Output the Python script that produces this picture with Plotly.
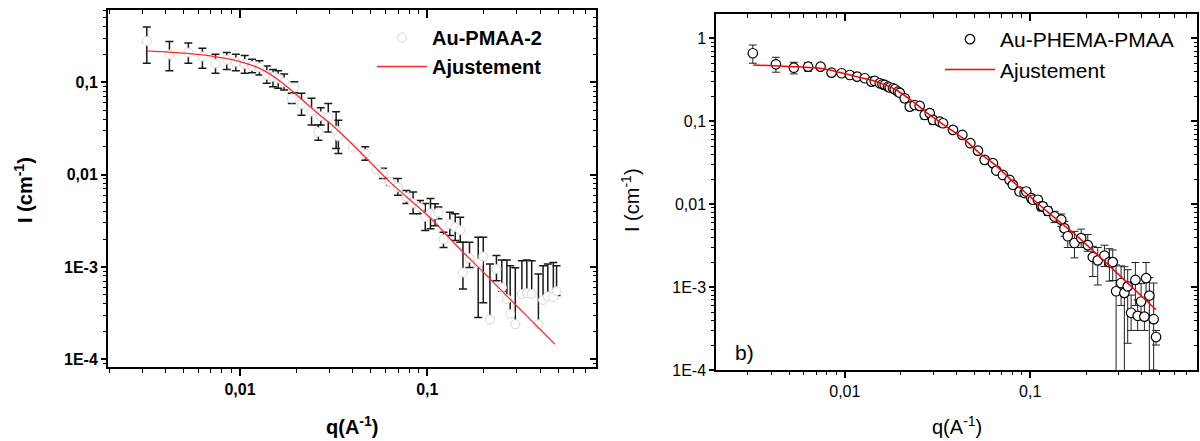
import plotly.graph_objects as go

# ---------------- Left panel: Au-PMAA-2 ----------------
q_a = [0.00318, 0.0042, 0.0053, 0.0063, 0.0074, 0.0085, 0.0095, 0.0106, 0.0116, 0.0127,
       0.0139, 0.0150, 0.0160, 0.0172, 0.0189, 0.0195, 0.0213, 0.0241, 0.0262, 0.0270,
       0.0296, 0.0326, 0.0335, 0.0400, 0.0466, 0.0536, 0.0580, 0.0632, 0.0697, 0.0774,
       0.0840, 0.0914, 0.0975, 0.104, 0.110, 0.1146, 0.122, 0.132, 0.141, 0.150,
       0.155, 0.168, 0.187, 0.199, 0.216, 0.234, 0.250, 0.266, 0.277, 0.295,
       0.320, 0.340, 0.361, 0.392, 0.415, 0.440, 0.471, 0.490]
I_a = [0.28, 0.20, 0.21, 0.19, 0.16, 0.175, 0.165, 0.158, 0.15, 0.145,
       0.12, 0.115, 0.11, 0.10, 0.067, 0.088, 0.058, 0.048, 0.029, 0.043,
       0.042, 0.030, 0.026, 0.0197, 0.0168, 0.0114, 0.0103, 0.0083, 0.0073, 0.0057,
       0.0049, 0.0044, 0.0035, 0.0038, 0.0037, 0.0039, 0.0020, 0.0029, 0.0027, 0.0025,
       0.00087, 0.00125, 0.0011, 0.0013, 0.00027, 0.00095, 0.0006, 0.00045, 0.00031, 0.00024,
       0.00051, 0.00052, 0.00051, 0.00024, 0.00044, 0.00048, 0.00047, 0.00055]
I_a_hi = [0.396, 0.276, 0.266, 0.234, 0.201, 0.21, 0.201, 0.195, 0.178, 0.171,
          0.150, 0.138, 0.133, 0.123, 0.0759, 0.1015, 0.0759, 0.067, 0.0344, 0.053,
          0.059, 0.0479, 0.0389, 0.0200, 0.0200, 0.0117, 0.0117, 0.0091, 0.0091, 0.00675,
          0.00647, 0.00525, 0.00488, 0.0055, 0.00484, 0.00445, 0.00238, 0.00392, 0.00377, 0.00346,
          0.00185, 0.00185, 0.0021, 0.0021, 0.00108, 0.00133, 0.00119, 0.00119, 0.00103, 0.00098,
          0.00117, 0.00119, 0.00117, 0.00084, 0.00103, 0.00108, 0.00112, 0.00103]
I_a_lo = [0.161, 0.133, 0.161, 0.142, 0.125, 0.138, 0.133, 0.125, 0.127, 0.12,
          0.0975, 0.0896, 0.086, 0.0825, 0.059, 0.077, 0.0441, 0.0344, 0.0236, 0.0344,
          0.029, 0.0192, 0.0169, 0.0194, 0.0143, 0.0111, 0.0091, 0.00766, 0.006, 0.00488,
          0.00377, 0.00377, 0.00248, 0.00259, 0.0028, 0.00333, 0.00163, 0.00219, 0.00193, 0.00185,
          0.000577, 0.00099, 0.000283, 0.00041, 0.00027, 0.00071, 0.00055, 0.00043, 0.00031, 0.00024,
          0.00051, 0.00052, 0.00051, 0.00024, 0.00044, 0.00048, 0.00047, 0.00049]

q_fit_a = [0.0032, 0.005, 0.0072, 0.0092, 0.0118, 0.0139, 0.017, 0.0209, 0.0257, 0.0315,
           0.042, 0.0632, 0.103, 0.1436, 0.2, 0.3, 0.4, 0.48]
I_fit_a = [0.219, 0.207, 0.191, 0.175, 0.151, 0.129, 0.097, 0.068, 0.047, 0.0335,
           0.0192, 0.0083, 0.00346, 0.0017, 0.00087, 0.00038, 0.000212, 0.000146]

# ---------------- Right panel: Au-PHEMA-PMAA ----------------
q_b = [0.00319, 0.00425, 0.00531, 0.00634, 0.0074, 0.00848, 0.0096, 0.01064, 0.01165, 0.01281,
       0.01393, 0.0145, 0.01544, 0.01596, 0.01642, 0.0171, 0.01747, 0.0182, 0.01859, 0.01936,
       0.01978, 0.02104, 0.02239, 0.02382, 0.02535, 0.02697, 0.0287, 0.02989, 0.03249, 0.03383,
       0.0383, 0.04303, 0.04752, 0.05224, 0.05675, 0.06292, 0.06561, 0.07118, 0.07737, 0.08059,
       0.08757, 0.0932, 0.0952, 0.1013, 0.1033, 0.1099, 0.1146, 0.1169, 0.1244, 0.1352,
       0.1469, 0.1530, 0.1594, 0.1732, 0.1882, 0.2043, 0.2174, 0.2312, 0.2513, 0.2673,
       0.2785, 0.2904, 0.309, 0.3218, 0.3354, 0.3499, 0.369, 0.3797, 0.396, 0.4126,
       0.4214, 0.4389, 0.463, 0.477]
I_b = [0.66, 0.486, 0.442, 0.455, 0.455, 0.385, 0.379, 0.361, 0.345, 0.330,
       0.300, 0.306, 0.287, 0.279, 0.274, 0.261, 0.255, 0.250, 0.243, 0.227,
       0.220, 0.189, 0.150, 0.157, 0.153, 0.119, 0.125, 0.1037, 0.0989, 0.0946,
       0.0786, 0.0684, 0.0543, 0.0442, 0.0342, 0.0312, 0.0254, 0.0225, 0.0196, 0.0171,
       0.0142, 0.0136, 0.0142, 0.0118, 0.0113, 0.0113, 0.0094, 0.0094, 0.0083, 0.0071,
       0.0065, 0.0051, 0.0041, 0.0034, 0.0039, 0.0032, 0.0023, 0.0021, 0.0024, 0.0020,
       0.0020, 0.00089, 0.00112, 0.00085, 0.00102, 0.00049, 0.00122, 0.00045, 0.00067, 0.00044,
       0.00128, 0.00079, 0.00041, 0.00025]
I_b_hi = [0.83, 0.59, 0.514, 0.51, 0.49, 0.41, 0.40, 0.38, 0.36, 0.345,
          0.32, 0.325, 0.30, 0.295, 0.29, 0.275, 0.27, 0.265, 0.26, 0.245,
          0.235, 0.205, 0.165, 0.172, 0.168, 0.132, 0.138, 0.115, 0.108, 0.104,
          0.083, 0.072, 0.057, 0.046, 0.036, 0.033, 0.027, 0.024, 0.021, 0.0185,
          0.0154, 0.0148, 0.0156, 0.013, 0.0124, 0.0125, 0.0105, 0.0104, 0.0093, 0.0082,
          0.0076, 0.0062, 0.0047, 0.0047, 0.0050, 0.0043, 0.0031, 0.0030, 0.0032, 0.0029,
          0.0028, 0.00185, 0.0018, 0.00176, 0.00162, 0.0008, 0.00198, 0.0007, 0.0011, 0.0007,
          0.00198, 0.0013, 0.00112, 0.0003]
I_b_lo = [0.50, 0.39, 0.372, 0.40, 0.42, 0.36, 0.36, 0.34, 0.33, 0.315,
          0.275, 0.29, 0.27, 0.265, 0.26, 0.245, 0.24, 0.23, 0.225, 0.21,
          0.205, 0.17, 0.135, 0.142, 0.138, 0.106, 0.112, 0.092, 0.089, 0.085,
          0.074, 0.065, 0.051, 0.042, 0.032, 0.029, 0.024, 0.021, 0.018, 0.0158,
          0.013, 0.0124, 0.013, 0.0106, 0.0102, 0.0101, 0.0083, 0.0084, 0.0073, 0.006,
          0.0054, 0.0041, 0.0030, 0.00225, 0.0030, 0.0027, 0.00134, 0.00106, 0.00177, 0.00118,
          0.0012, 0.0, 0.0006, 0.0, 0.00021, 0.0003, 0.0006, 0.0003, 0.0004, 0.0003,
          0.0007, 0.0, 0.0001, 0.0002]

q_fit_b = [0.00321, 0.00734, 0.0083, 0.01254, 0.01482, 0.01898, 0.02332, 0.0287, 0.03529, 0.04335,
           0.05333, 0.06561, 0.08059, 0.0991, 0.1244, 0.1769, 0.2673, 0.477]
I_fit_b = [0.477, 0.435, 0.415, 0.33, 0.30, 0.238, 0.172, 0.119, 0.0861, 0.0624,
           0.0411, 0.0289, 0.0187, 0.0125, 0.0080, 0.0042, 0.0018, 0.000533]

FONT = "Liberation Sans, Arial, sans-serif"

err_a_plus = [h - v for h, v in zip(I_a_hi, I_a)]
err_a_minus = [v - l for v, l in zip(I_a, I_a_lo)]
err_b_plus = [h - v for h, v in zip(I_b_hi, I_b)]
err_b_minus = [v - l for v, l in zip(I_b, I_b_lo)]

minor_vals = [m * 10.0 ** e for e in range(-5, 1) for m in range(2, 10)]

fig = go.Figure()

# Left panel traces
fig.add_trace(go.Scatter(
    x=q_a, y=I_a, mode="markers", name="Au-PMAA-2",
    marker=dict(symbol="circle", size=9, color="white", line=dict(color="#d6d6d6", width=1)),
    error_y=dict(type="data", symmetric=False, array=err_a_plus, arrayminus=err_a_minus,
                 color="#1a1a1a", thickness=1.5, width=4),
    xaxis="x", yaxis="y", legend="legend"))
fig.add_trace(go.Scatter(
    x=q_fit_a, y=I_fit_a, mode="lines", name="Ajustement", line_shape="spline",
    line=dict(color="#ff2a2a", width=1.3, smoothing=0.6), xaxis="x", yaxis="y", legend="legend"))

# Right panel traces
fig.add_trace(go.Scatter(
    x=q_b, y=I_b, mode="markers", name="Au-PHEMA-PMAA",
    marker=dict(symbol="circle", size=9.5, color="white", line=dict(color="black", width=1.2)),
    error_y=dict(type="data", symmetric=False, array=err_b_plus, arrayminus=err_b_minus,
                 color="#222222", thickness=1, width=4),
    xaxis="x2", yaxis="y2", legend="legend2"))
fig.add_trace(go.Scatter(
    x=q_fit_b, y=I_fit_b, mode="lines", name="Ajustement", line_shape="spline",
    line=dict(color="#ff0000", width=1.5, smoothing=0.6), xaxis="x2", yaxis="y2", legend="legend2"))

# invisible helpers to activate the inward mirror-tick axes
fig.add_trace(go.Scatter(x=[0.01], y=[0.01], xaxis="x3", yaxis="y3", mode="markers",
                         marker=dict(opacity=0), showlegend=False, hoverinfo="skip"))
fig.add_trace(go.Scatter(x=[0.01], y=[0.01], xaxis="x4", yaxis="y4", mode="markers",
                         marker=dict(opacity=0), showlegend=False, hoverinfo="skip"))

xr_a = [-2.7047, -0.0993]
yr_a = [-4.083, -0.217]
xr_b = [-2.6947, -0.1007]
yr_b = [-4.0, 0.2895]


def main_axis(rng, dom, anchor, vals, texts, bold, lw, major_len, minor_len, tick_size):
    f = dict(family=FONT, size=tick_size, color="black")
    if bold:
        f["weight"] = "bold"
    return dict(type="log", range=rng, domain=dom, anchor=anchor,
                showline=True, linecolor="black", linewidth=lw, mirror=True,
                ticks="outside", ticklen=major_len, tickwidth=1.5, tickcolor="black",
                tickmode="array", tickvals=vals, ticktext=texts, tickfont=f,
                minor=dict(tickmode="array", tickvals=minor_vals, ticks="outside",
                           ticklen=minor_len, tickwidth=1.2, tickcolor="black", showgrid=False),
                showgrid=False, zeroline=False, automargin=False)


def mirror_axis(rng, over, side, anchor, vals, major_len, minor_len):
    return dict(type="log", range=rng, overlaying=over, side=side, anchor=anchor,
                showline=False, ticks="inside", ticklen=major_len, tickwidth=1.5, tickcolor="black",
                tickmode="array", tickvals=vals, showticklabels=False,
                minor=dict(tickmode="array", tickvals=minor_vals, ticks="inside",
                           ticklen=minor_len, tickwidth=1.2, tickcolor="black", showgrid=False),
                showgrid=False, zeroline=False, automargin=False)


yvals_a = [1e-4, 1e-3, 0.01, 0.1]
ytext_a = ["1E-4", "1E-3", "0,01", "0,1"]
yvals_b = [1e-4, 1e-3, 0.01, 0.1, 1]
ytext_b = ["1E-4", "1E-3", "0,01", "0,1", "1"]
xvals = [0.01, 0.1]
xtext = ["0,01", "0,1"]

dom_xa = [108 / 1200, 596 / 1200]
dom_ya = [(441 - 367) / 441, (441 - 10) / 441]
dom_xb = [716 / 1200, 1197 / 1200]
dom_yb = [(441 - 370) / 441, (441 - 14.3) / 441]

fig.update_layout(
    width=1200, height=441,
    margin=dict(l=0, r=0, t=0, b=0),
    paper_bgcolor="white", plot_bgcolor="white",
    font=dict(family=FONT, color="black"),
    xaxis=main_axis(xr_a, dom_xa, "y", xvals, xtext, True, 2, 7, 4, 16),
    yaxis=main_axis(yr_a, dom_ya, "x", yvals_a, ytext_a, True, 2, 5, 3, 16),
    xaxis2=main_axis(xr_b, dom_xb, "y2", xvals, xtext, False, 1.5, 6, 3, 16),
    yaxis2=main_axis(yr_b, dom_yb, "x2", yvals_b, ytext_b, False, 1.5, 5, 3, 16),
    xaxis3=mirror_axis(xr_a, "x", "top", "y", xvals, 8, 4),
    yaxis3=mirror_axis(yr_a, "y", "right", "x", yvals_a, 6, 3),
    xaxis4=mirror_axis(xr_b, "x2", "top", "y2", xvals, 7, 4),
    yaxis4=mirror_axis(yr_b, "y2", "right", "x2", yvals_b, 6, 3),
    legend=dict(x=372 / 1200, y=(441 - 18) / 441, xanchor="left", yanchor="top",
                bgcolor="rgba(0,0,0,0)", borderwidth=0, itemwidth=50, tracegroupgap=0,
                font=dict(family=FONT, size=20, color="black", weight="bold")),
    legend2=dict(x=940 / 1200, y=(441 - 19) / 441, xanchor="left", yanchor="top",
                 bgcolor="rgba(0,0,0,0)", borderwidth=0, itemwidth=50, tracegroupgap=0,
                 font=dict(family=FONT, size=21, color="black")),
    showlegend=True,
    annotations=[
        dict(text="I (cm<sup>-1</sup>)", xref="paper", yref="paper", x=24 / 1200, y=(441 - 190) / 441,
             textangle=-90, showarrow=False, xanchor="center", yanchor="middle",
             font=dict(family=FONT, size=20, color="black", weight="bold")),
        dict(text="q(A<sup>-1</sup>)", xref="paper", yref="paper", x=352 / 1200, y=(441 - 425) / 441,
             showarrow=False, xanchor="center", yanchor="middle",
             font=dict(family=FONT, size=20, color="black", weight="bold")),
        dict(text="I (cm<sup>-1</sup>)", xref="paper", yref="paper", x=630 / 1200, y=(441 - 200) / 441,
             textangle=-90, showarrow=False, xanchor="center", yanchor="middle",
             font=dict(family=FONT, size=20, color="black")),
        dict(text="q(A<sup>-1</sup>)", xref="paper", yref="paper", x=957 / 1200, y=(441 - 425) / 441,
             showarrow=False, xanchor="center", yanchor="middle",
             font=dict(family=FONT, size=20, color="black")),
        dict(text="b)", xref="paper", yref="paper", x=733 / 1200, y=(441 - 352) / 441,
             showarrow=False, xanchor="left", yanchor="middle",
             font=dict(family=FONT, size=21, color="black")),
    ],
)

fig.write_html("out.html", config={"displayModeBar": False},
               post_script="document.body.style.margin='0';document.body.style.overflow='hidden';")
